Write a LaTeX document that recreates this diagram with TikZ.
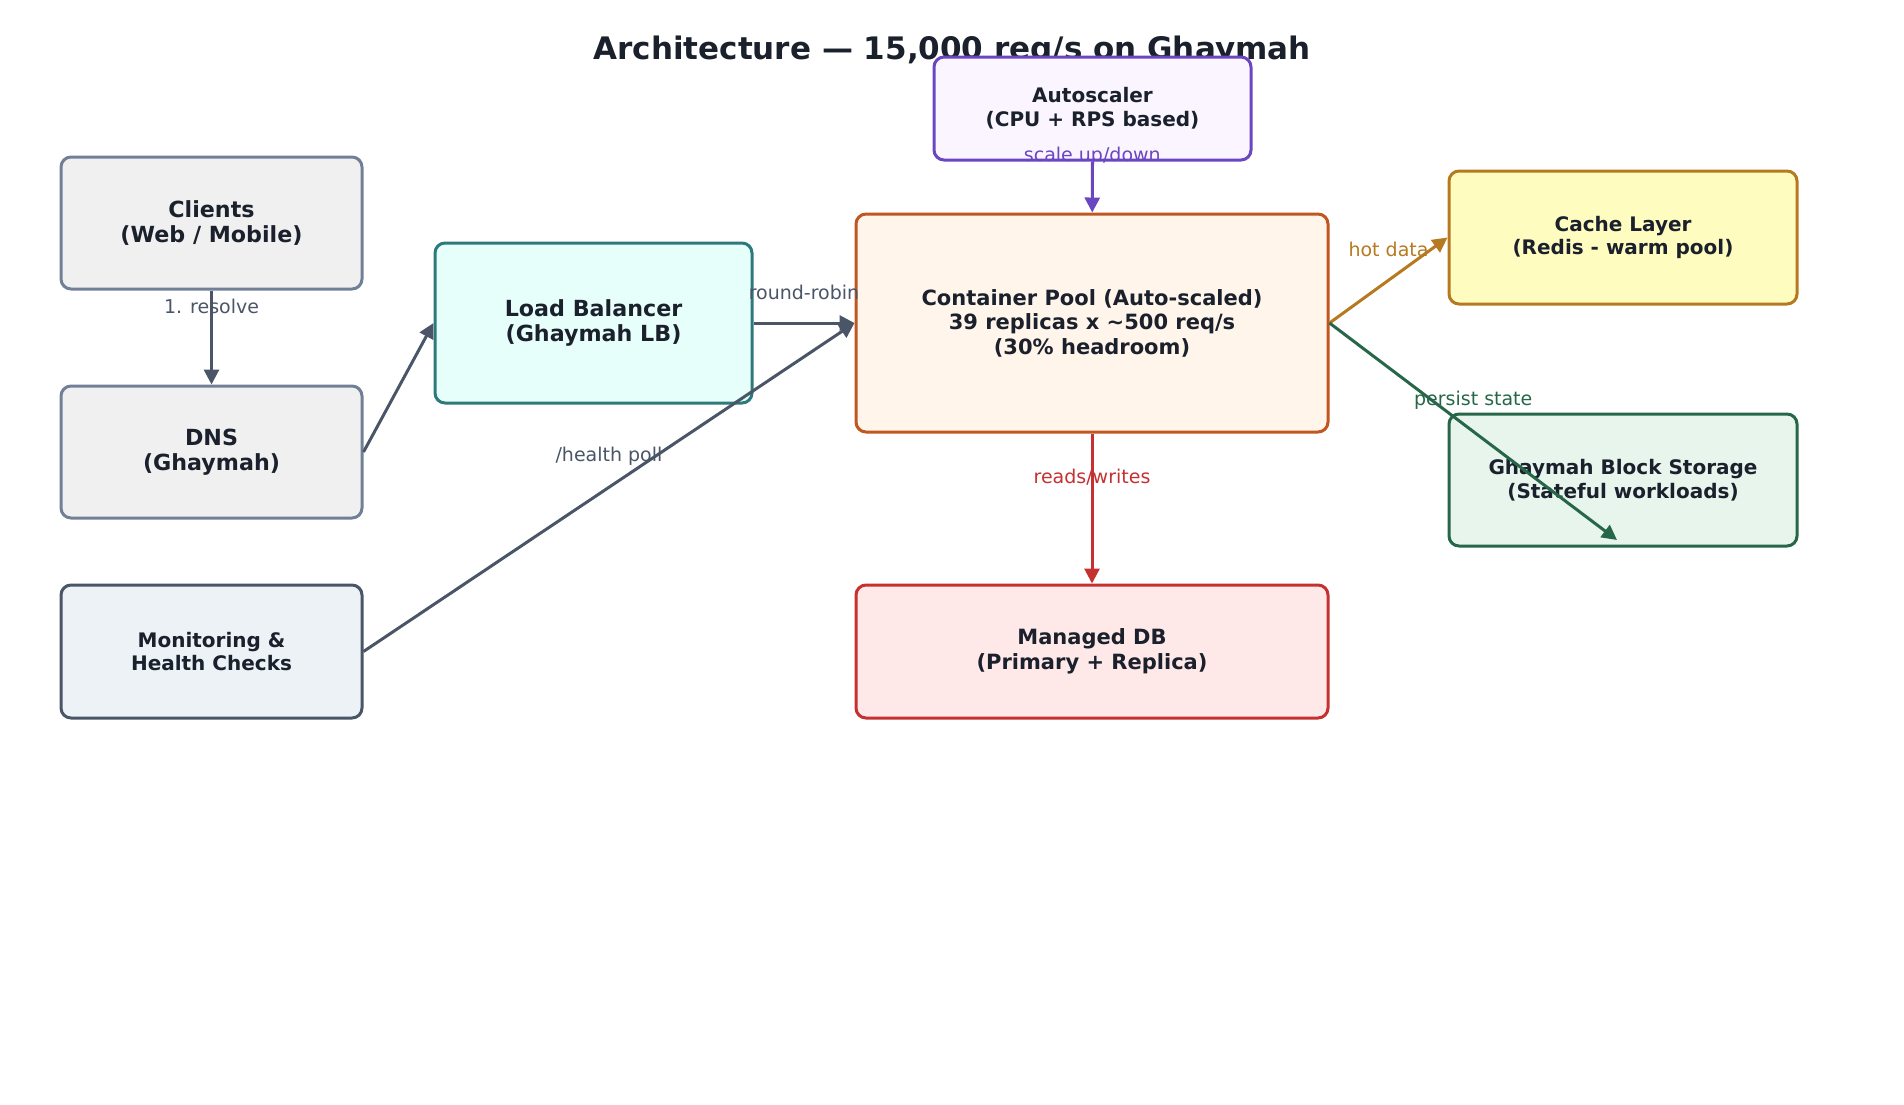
\documentclass[tikz,border=0pt]{standalone}
\usepackage{fontspec}
\setmainfont{DejaVu Sans}
\usepackage{tikz}
\usetikzlibrary{arrows.meta}

\definecolor{ink}{HTML}{1A202C}
\definecolor{slate}{HTML}{718096}
\definecolor{slatedark}{HTML}{4A5568}
\definecolor{teal}{HTML}{2C7A7B}
\definecolor{violet}{HTML}{6B46C1}
\definecolor{rust}{HTML}{C05621}
\definecolor{crimson}{HTML}{C53030}
\definecolor{ochre}{HTML}{B7791F}
\definecolor{forest}{HTML}{276749}
\definecolor{grayfill}{HTML}{F0F0F0}
\definecolor{monfill}{HTML}{EDF2F7}
\definecolor{tealfill}{HTML}{E6FFFA}
\definecolor{violetfill}{HTML}{FAF5FF}
\definecolor{rustfill}{HTML}{FFF5EB}
\definecolor{crimsonfill}{HTML}{FFE8E8}
\definecolor{ochrefill}{HTML}{FEFCBF}
\definecolor{forestfill}{HTML}{E8F5EC}

\begin{document}
\begin{tikzpicture}[x=0.5pt, y=-0.5pt,
	box/.style={draw, rounded corners=5pt, line width=1.5pt, align=center,
		inner sep=0pt, text=ink, font=\bfseries\fontsize{10.5}{12.3}\selectfont},
	bigbox/.style={box, font=\bfseries\fontsize{11.1}{12.8}\selectfont},
	smallbox/.style={box, font=\bfseries\fontsize{10}{11.8}\selectfont},
	conn/.style={line width=1.5pt, -{Triangle[length=7.5pt, width=7.5pt]}},
	lbl/.style={font=\fontsize{9.5}{11}\selectfont, yshift=15.5pt}]

			% Page
			\useasboundingbox (0,0) rectangle (1904,1104);
			\node (title) at (952,51.5) [text=ink, font=\bfseries\fontsize{15.5}{18}\selectfont]
				{Architecture — 15,000 req/s on Ghaymah};

			% Left column
			\node (clients) at (211.5,223) [bigbox, draw=slate, fill=grayfill,
				minimum width=150.5pt, minimum height=66pt] {Clients\\(Web / Mobile)};
			\node (dns) at (211.5,452) [bigbox, draw=slate, fill=grayfill,
				minimum width=150.5pt, minimum height=66pt] {DNS\\(Ghaymah)};
			\node (mon) at (211.5,651.5) [smallbox, draw=slatedark, fill=monfill,
				minimum width=150.5pt, minimum height=66.5pt] {Monitoring \&\\Health Checks};

			% Middle
			\node (lb) at (593.5,323) [bigbox, draw=teal, fill=tealfill,
				minimum width=158.5pt, minimum height=80pt] {Load Balancer\\(Ghaymah LB)};
			\node (auto) at (1092.5,108.5) [smallbox, draw=violet, fill=violetfill,
				minimum width=158.5pt, minimum height=51.5pt] {Autoscaler\\(CPU + RPS based)};
			\node (pool) at (1092,323) [box, draw=rust, fill=rustfill,
				minimum width=236pt, minimum height=109pt]
				{Container Pool (Auto-scaled)\\39 replicas x \textasciitilde500 req/s\\(30\% headroom)};
			\node (db) at (1092,651.5) [box, draw=crimson, fill=crimsonfill,
				minimum width=236pt, minimum height=66.5pt] {Managed DB\\(Primary + Replica)};

			% Right column
			\node (cache) at (1623,237.5) [smallbox, draw=ochre, fill=ochrefill,
				minimum width=174pt, minimum height=66.5pt] {Cache Layer\\(Redis - warm pool)};
			\node (blk) at (1623,480) [smallbox, draw=forest, fill=forestfill,
				minimum width=174pt, minimum height=66pt] {Ghaymah Block Storage\\(Stateful workloads)};
			\coordinate (blkEnd) at (1617,540);

			% Connectors
			\draw[conn, slatedark] (clients) -- (dns) node[lbl, midway] {1. resolve};
			\draw[conn, slatedark] (dns.east) -- (lb.west);
			\draw[conn, slatedark] (lb) -- (pool) node[lbl, midway] {round-robin};
			\draw[conn, slatedark] (mon.east) -- (pool.west) node[lbl, midway] {/health poll};
			\draw[conn, violet] (auto) -- (pool) node[lbl, midway] {scale up/down};
			\draw[conn, crimson] (pool) -- (db) node[lbl, midway] {reads/writes};
			\draw[conn, ochre] (pool.east) -- (cache.west) node[lbl, midway] {hot data};
			\draw[conn, forest] (pool.east) -- (blkEnd) node[lbl, midway] {persist state};

		\end{tikzpicture}
\end{document}
